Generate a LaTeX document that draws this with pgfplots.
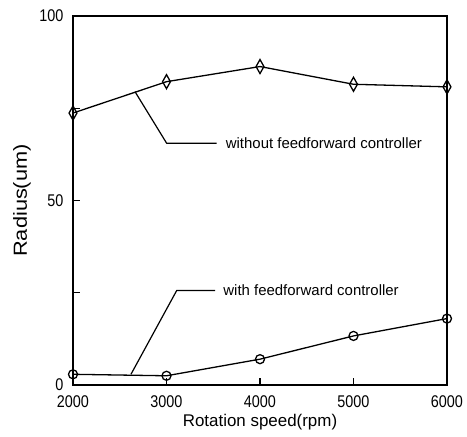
\documentclass[border=0pt]{standalone}
\usepackage{fontspec}
\setmainfont{Liberation Sans}
\newfontfamily\tickfont[FakeStretch=0.85]{Liberation Sans}
\newfontfamily\ylabfont[FakeStretch=1.15]{Liberation Sans}
\usepackage{pgfplots}
\pgfplotsset{compat=1.18}
\begin{document}
\begin{tikzpicture}
\useasboundingbox (-73bp,-52bp) rectangle (394bp,385bp);
\begin{axis}[
  at={(0,0)}, anchor=south west,
  scale only axis, width=374bp, height=369bp,
  xmin=2000, xmax=6000, ymin=0, ymax=100,
  xtick={2000,3000,4000,5000,6000},
  ytick={0,50,100}, minor ytick={25,75},
  tick pos=left, tick align=inside,
  major tick length=7bp, minor tick length=7bp,
  axis line style={line width=1.6bp},
  every tick/.style={black, line width=1.2bp},
  /pgf/number format/assume math mode=true,
  /pgf/number format/set thousands separator={},
  ticklabel style={font=\tickfont\fontsize{17}{20}\selectfont, inner sep=1bp},
  xticklabel style={yshift=-9.5bp},
  yticklabel style={xshift=-8.5bp},
  xlabel={Rotation speed(rpm)}, ylabel={Radius(um)},
  xlabel style={font=\fontsize{17}{20}\selectfont, at={(axis description cs:0.5,-0.1003)}, anchor=center},
  ylabel style={font=\ylabfont\fontsize{19}{22}\selectfont, at={(axis description cs:-0.1364,0.5)}, anchor=center},
  clip=false,
]
\addplot[black, line width=1.3bp, mark=diamond, mark size=7bp, mark options={xscale=0.75, solid, fill=white}]
  coordinates {(2000,73.7)(3000,82.2)(4000,86.3)(5000,81.5)(6000,80.8)};
\addplot[black, line width=1.3bp, mark=o, mark size=4.5bp, mark options={solid}]
  coordinates {(2000,2.9)(3000,2.5)(4000,7.0)(5000,13.3)(6000,18.0)};
\draw[line width=1.2bp] (axis cs:2663,79.5) -- (axis cs:3002,65.5) -- (axis cs:3537,65.5);
\node[anchor=west, inner sep=0pt, font=\fontsize{15}{18}\selectfont] at (axis cs:3633,65.5) {without feedforward controller};
\draw[line width=1.2bp] (axis cs:2620,2.9) -- (axis cs:3109,25.6) -- (axis cs:3519,25.6);
\node[anchor=west, inner sep=0pt, font=\fontsize{15}{18}\selectfont] at (axis cs:3607,25.6) {with feedforward controller};
\end{axis}
\end{tikzpicture}
\end{document}
